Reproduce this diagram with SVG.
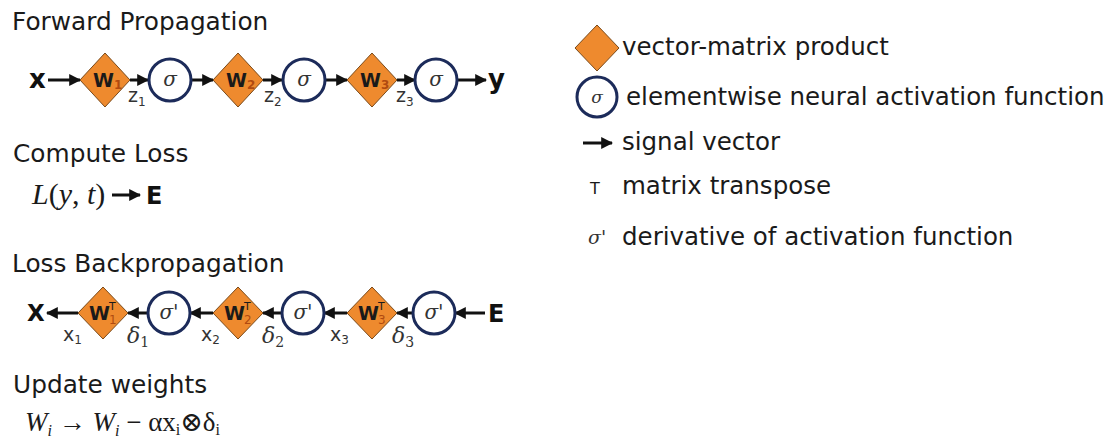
<svg xmlns="http://www.w3.org/2000/svg" width="1106" height="438" viewBox="0 0 1106 438">
<style>
.t{font-family:"DejaVu Sans",Verdana,sans-serif;font-size:24.5px;fill:#1a1a1a}
.tt{font-family:"DejaVu Sans",Verdana,sans-serif;font-size:24.8px;fill:#1a1a1a}
.b{font-family:"DejaVu Sans",Verdana,sans-serif;font-weight:bold;fill:#111}
.w{font-family:"DejaVu Sans",Verdana,sans-serif;font-weight:bold;font-size:19px;fill:#1a1a1a}
.ws{font-family:"DejaVu Sans",sans-serif;font-size:12px;fill:#b04a10}
.wt{font-family:"DejaVu Sans",sans-serif;font-size:11px;fill:#1a1a1a}
.lab{font-family:"DejaVu Sans",sans-serif;font-size:19px;fill:#333}
.labs{font-family:"DejaVu Sans",sans-serif;font-size:12px;fill:#333}
.sg{font-family:"DejaVu Serif","Liberation Serif",serif;font-style:italic;font-size:20px;fill:#333}
.dl{font-family:"DejaVu Serif","Liberation Serif",serif;font-style:italic;font-size:22px;fill:#333}
.dls{font-family:"DejaVu Serif","Liberation Serif",serif;font-size:14px;fill:#333}
.m{font-family:"Liberation Serif","DejaVu Serif",serif;font-size:27px;fill:#1a1a1a}
.dia{fill:#EE8A2E;stroke:#7a4a1a;stroke-width:1}
.cir{fill:#fff;stroke:#1c2b5a;stroke-width:3}
.ar{stroke:#111;stroke-width:3;fill:none;marker-end:url(#ah)}
</style>
<defs>
<marker id="ah" viewBox="0 0 10 10" refX="9" refY="5" markerWidth="12" markerHeight="12" markerUnits="userSpaceOnUse" orient="auto">
<path d="M0,0 L10,5 L0,10 z" fill="#111"/>
</marker>
</defs>
<rect width="1106" height="438" fill="#fff"/>

<g id="titles">
<text class="tt" x="12" y="30">Forward Propagation</text>
<text class="tt" x="13" y="162">Compute Loss</text>
<text class="tt" x="12" y="272">Loss Backpropagation</text>
<text class="tt" x="13" y="393">Update weights</text>
</g>

<g id="connectors">
<line class="ar" x1="48" y1="80" x2="80" y2="80"/>
<line class="ar" x1="130" y1="80" x2="148" y2="80"/>
<line class="ar" x1="191" y1="80" x2="213" y2="80"/>
<line class="ar" x1="263" y1="80" x2="282" y2="80"/>
<line class="ar" x1="325" y1="80" x2="347" y2="80"/>
<line class="ar" x1="397" y1="80" x2="415" y2="80"/>
<line class="ar" x1="457" y1="80" x2="486" y2="80"/>

<line class="ar" x1="112" y1="195" x2="140" y2="195"/>

<line class="ar" x1="78" y1="313" x2="47" y2="313"/>
<line class="ar" x1="148" y1="313" x2="128" y2="313"/>
<line class="ar" x1="213" y1="313" x2="190" y2="313"/>
<line class="ar" x1="282" y1="313" x2="263" y2="313"/>
<line class="ar" x1="347" y1="313" x2="324" y2="313"/>
<line class="ar" x1="413" y1="313" x2="397" y2="313"/>
<line class="ar" x1="485" y1="313" x2="455" y2="313"/>

<line class="ar" x1="583" y1="143" x2="612" y2="143"/>
</g>

<g id="fwd-x"><text class="b" x="29" y="88" style="font-size:26px">x</text></g>
<g id="fwd-W1"><polygon class="dia" points="105,53 130,80 105,107 80,80"/><text class="w" x="93" y="87">W<tspan class="ws" dy="2">1</tspan></text></g>
<g id="fwd-s1"><circle class="cir" cx="170" cy="80" r="21"/><text class="sg" x="170" y="86" text-anchor="middle">σ</text></g>
<g id="fwd-W2"><polygon class="dia" points="238,53 263,80 238,107 213,80"/><text class="w" x="226" y="87">W<tspan class="ws" dy="2">2</tspan></text></g>
<g id="fwd-s2"><circle class="cir" cx="304" cy="80" r="21"/><text class="sg" x="304" y="86" text-anchor="middle">σ</text></g>
<g id="fwd-W3"><polygon class="dia" points="372,53 397,80 372,107 347,80"/><text class="w" x="360" y="87">W<tspan class="ws" dy="2">3</tspan></text></g>
<g id="fwd-s3"><circle class="cir" cx="436" cy="80" r="21"/><text class="sg" x="436" y="86" text-anchor="middle">σ</text></g>
<g id="fwd-y"><text class="b" x="488" y="88" style="font-size:26px">y</text></g>
<g id="fwd-labels">
<text class="lab" x="128" y="102">z<tspan class="labs" dy="4">1</tspan></text>
<text class="lab" x="264" y="102">z<tspan class="labs" dy="4">2</tspan></text>
<text class="lab" x="396" y="102">z<tspan class="labs" dy="4">3</tspan></text>
</g>

<g id="loss">
<text class="m" x="32" y="204" style="font-size:30px"><tspan font-style="italic">L</tspan>(<tspan font-style="italic">y</tspan>, <tspan font-style="italic">t</tspan>)</text>
<text class="b" x="146" y="204" style="font-size:24px">E</text>
</g>

<g id="bwd-X"><text class="b" x="27" y="321" style="font-size:23px">X</text></g>
<g id="bwd-W1"><polygon class="dia" points="103,287 128,313 103,339 78,313"/><text class="w" x="89" y="320">W</text><text class="wt" x="109" y="310">T</text><text class="ws" x="109" y="324">1</text></g>
<g id="bwd-s1"><circle class="cir" cx="169" cy="313" r="21"/><text class="sg" x="169" y="319" text-anchor="middle">σ'</text></g>
<g id="bwd-W2"><polygon class="dia" points="238,287 263,313 238,339 213,313"/><text class="w" x="224" y="320">W</text><text class="wt" x="244" y="310">T</text><text class="ws" x="244" y="324">2</text></g>
<g id="bwd-s2"><circle class="cir" cx="303" cy="313" r="21"/><text class="sg" x="303" y="319" text-anchor="middle">σ'</text></g>
<g id="bwd-W3"><polygon class="dia" points="372,287 397,313 372,339 347,313"/><text class="w" x="358" y="320">W</text><text class="wt" x="378" y="310">T</text><text class="ws" x="378" y="324">3</text></g>
<g id="bwd-s3"><circle class="cir" cx="434" cy="313" r="21"/><text class="sg" x="434" y="319" text-anchor="middle">σ'</text></g>
<g id="bwd-E"><text class="b" x="488" y="322" style="font-size:24px">E</text></g>
<g id="bwd-labels">
<text class="lab" x="63" y="341">x<tspan class="labs" dy="3">1</tspan></text>
<text class="dl" x="127" y="343">δ<tspan class="dls" style="font-style:normal" dy="4">1</tspan></text>
<text class="lab" x="201" y="341">x<tspan class="labs" dy="3">2</tspan></text>
<text class="dl" x="262" y="343">δ<tspan class="dls" style="font-style:normal" dy="4">2</tspan></text>
<text class="lab" x="330" y="341">x<tspan class="labs" dy="3">3</tspan></text>
<text class="dl" x="392" y="343">δ<tspan class="dls" style="font-style:normal" dy="4">3</tspan></text>
</g>

<g id="update">
<text class="m" x="25" y="431"><tspan font-style="italic">W</tspan><tspan font-size="16" font-style="italic" dy="5">i</tspan><tspan dy="-5"> → </tspan><tspan font-style="italic">W</tspan><tspan font-size="16" font-style="italic" dy="5">i</tspan><tspan dy="-5"> −  αx</tspan><tspan font-size="16" dy="4">i</tspan><tspan dy="-4">⊗δ</tspan><tspan font-size="16" dy="4">i</tspan></text>
</g>

<g id="legend-product"><polygon class="dia" points="597,25 619,48 597,71 575,48"/><text class="t" x="622" y="55">vector-matrix product</text></g>
<g id="legend-activation"><circle class="cir" cx="597" cy="97" r="20"/><text class="sg" x="597" y="103" text-anchor="middle" style="font-size:17px">σ</text><text class="t" x="626" y="105">elementwise neural activation function</text></g>
<g id="legend-signal"><text class="t" x="622" y="150">signal vector</text></g>
<g id="legend-transpose"><text class="wt" x="590" y="194" style="font-size:16px">T</text><text class="t" x="622" y="194">matrix transpose</text></g>
<g id="legend-derivative"><text class="sg" x="588" y="244" style="font-size:19px">σ'</text><text class="t" x="622" y="245">derivative of activation function</text></g>
</svg>
